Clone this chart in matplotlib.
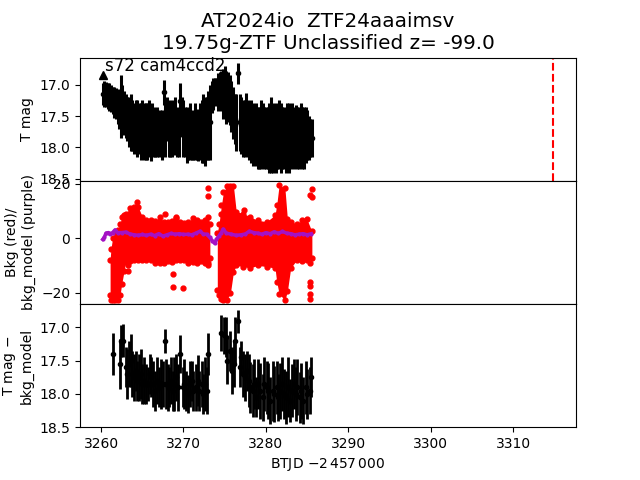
import matplotlib
matplotlib.use('Agg')
import matplotlib.pyplot as plt

# Top panel: T mag light curve
t_top = [3260.2, 3260.4, 3260.6, 3260.8, 3261.0, 3261.2, 3261.4, 3261.6, 3261.8, 3262.0,
         3262.2, 3262.4, 3262.6, 3262.8, 3263.0, 3263.2, 3263.4, 3263.6, 3263.8, 3264.0,
         3264.2, 3264.4, 3264.6, 3264.8, 3265.0, 3265.2, 3265.4, 3265.6, 3265.8, 3266.0,
         3266.2, 3266.4, 3266.6, 3266.8, 3267.0, 3267.2, 3267.4, 3267.6, 3267.8, 3268.0,
         3268.2, 3268.4, 3268.6, 3268.8, 3269.0, 3269.2, 3269.4, 3269.6, 3269.8, 3270.0,
         3270.2, 3270.4, 3270.6, 3270.8, 3271.0, 3271.2, 3271.4, 3271.6, 3271.8, 3272.0,
         3272.2, 3272.4, 3272.6, 3272.8, 3273.0, 3273.2, 3273.4, 3273.6, 3273.8, 3274.0,
         3274.2, 3274.4, 3274.6, 3274.8, 3275.0, 3275.2, 3275.4, 3275.6, 3275.8, 3276.0,
         3276.2, 3276.4, 3276.6, 3276.8, 3277.0, 3277.2, 3277.4, 3277.6, 3277.8, 3278.0,
         3278.2, 3278.4, 3278.6, 3278.8, 3279.0, 3279.2, 3279.4, 3279.6, 3279.8, 3280.0,
         3280.2, 3280.4, 3280.6, 3280.8, 3281.0, 3281.2, 3281.4, 3281.6, 3281.8, 3282.0,
         3282.2, 3282.4, 3282.6, 3282.8, 3283.0, 3283.2, 3283.4, 3283.6, 3283.8, 3284.0,
         3284.2, 3284.4, 3284.6, 3284.8, 3285.0, 3285.2, 3285.4, 3285.6]
mag_top = [17.15, 17.15, 17.16, 17.18, 17.20, 17.22, 17.25, 17.28, 17.30, 17.35,
           17.40, 17.35, 17.35, 17.45, 17.50, 17.55, 17.60, 17.60, 17.65, 17.70,
           17.65, 17.70, 17.70, 17.75, 17.70, 17.75, 17.75, 17.75, 17.70, 17.80,
           17.70, 17.75, 17.80, 17.75, 17.80, 17.75, 17.80, 17.12, 17.70, 17.55,
           17.70, 17.75, 17.70, 17.70, 17.65, 17.75, 17.80, 17.26, 17.50, 17.70,
           17.75, 17.80, 17.80, 17.75, 17.80, 17.85, 17.75, 17.80, 17.80, 17.75,
           17.75, 17.70, 17.75, 17.70, 17.65, 17.60, 17.20, 17.15, 17.12, 17.10,
           17.12, 17.10, 17.10, 17.15, 17.10, 17.20, 17.20, 17.25, 17.35, 17.45,
           17.55, 17.60, 16.82, 17.60, 17.65, 17.70, 17.70, 17.38, 17.70, 17.75,
           17.75, 17.80, 17.80, 17.80, 17.85, 17.85, 17.80, 17.80, 17.85, 17.85,
           17.85, 17.85, 17.80, 17.85, 17.85, 17.85, 17.85, 17.80, 17.85, 17.85,
           17.85, 17.90, 17.80, 17.85, 17.85, 17.80, 17.85, 17.62, 17.85, 17.85,
           17.80, 17.85, 17.85, 17.80, 17.80, 17.85, 17.85, 17.85]
err_top = [0.18, 0.20, 0.20, 0.20, 0.22, 0.22, 0.22, 0.25, 0.25, 0.28,
           0.30, 0.50, 0.35, 0.35, 0.35, 0.35, 0.40, 0.45, 0.40, 0.40,
           0.40, 0.45, 0.40, 0.45, 0.45, 0.45, 0.45, 0.45, 0.45, 0.42,
           0.40, 0.40, 0.35, 0.40, 0.35, 0.35, 0.40, 0.20, 0.45, 0.35,
           0.45, 0.40, 0.45, 0.42, 0.45, 0.40, 0.35, 0.28, 0.30, 0.45,
           0.40, 0.45, 0.40, 0.45, 0.40, 0.35, 0.45, 0.40, 0.42, 0.45,
           0.50, 0.55, 0.55, 0.50, 0.55, 0.60, 0.25, 0.25, 0.22, 0.20,
           0.30, 0.30, 0.32, 0.40, 0.40, 0.42, 0.40, 0.40, 0.40, 0.42,
           0.40, 0.45, 0.17, 0.45, 0.45, 0.45, 0.45, 0.25, 0.45, 0.45,
           0.50, 0.50, 0.45, 0.50, 0.50, 0.50, 0.55, 0.50, 0.50, 0.50,
           0.50, 0.55, 0.60, 0.55, 0.50, 0.55, 0.50, 0.55, 0.55, 0.50,
           0.50, 0.50, 0.50, 0.55, 0.50, 0.50, 0.50, 0.30, 0.50, 0.50,
           0.50, 0.50, 0.50, 0.45, 0.40, 0.35, 0.30, 0.30]

# Middle panel: background, dense cloud given by its edges, plus stray points
t_bkg_a = [3261.1, 3261.2, 3261.4, 3261.7, 3262.0, 3262.3, 3262.5, 3262.8, 3263.0, 3263.5, 3264.0, 3264.5, 3265.0,
           3265.5, 3266.0, 3266.6, 3267.1, 3267.6, 3268.1, 3268.6, 3269.1, 3269.6, 3270.1,
           3270.6, 3271.1, 3271.6, 3272.1, 3272.6, 3273.0, 3273.2]
hi_bkg_a = [-8.0, -4.0, 0.0, 2.3, 3.0, 5.0, 7.8, 8.5, 9.0, 11.0, 11.5, 11.5, 7.8,
            6.6, 6.5, 6.2, 7.8, 6.0, 6.0, 6.4, 7.2, 5.8, 5.5,
            6.0, 7.2, 6.5, 5.8, 6.5, 7.8, 5.0]
lo_bkg_a = [-21.0, -22.8, -22.8, -22.8, -22.8, -21.0, -17.0, -12.0, -8.7, -8.5, -8.0, -8.2, -8.0,
            -8.0, -8.2, -9.3, -9.0, -9.3, -8.5, -8.8, -8.0, -8.0, -8.2,
            -9.3, -8.8, -9.3, -8.5, -9.0, -9.0, -7.5]
t_bkg_b = [3274.1, 3274.3, 3274.6, 3274.85, 3275.25, 3275.7, 3276.06, 3276.4, 3277.27, 3278.08, 3279.0,
           3280.1, 3281.1, 3281.3, 3281.6, 3282.3, 3282.6, 3283.0, 3283.75, 3284.4, 3284.96, 3285.57]
hi_bkg_b = [2.0, 5.0, 12.0, 17.0, 19.0, 19.0, 19.0, 9.7, 9.0, 7.8, 6.5,
            6.0, 8.5, 12.0, 19.5, 18.3, 7.0, 6.0, 5.2, 6.5, 7.0, 2.4]
lo_bkg_b = [-19.0, -21.0, -22.5, -22.8, -22.8, -20.0, -12.4, -10.0, -10.5, -11.0, -10.0,
            -10.5, -11.0, -16.0, -20.5, -22.8, -19.5, -11.0, -8.0, -8.5, -8.0, -7.5]
t_bkg_odd = [3264.4, 3267.8, 3269.06, 3273.0, 3273.0, 3274.5, 3274.5, 3277.3, 3263.3, 3263.3,
             3268.7, 3268.7, 3270.0, 3273.0, 3285.55, 3285.35, 3285.6, 3285.35, 3285.35,
             3285.35, 3285.35, 3285.35]
bkg_odd = [13.4, 8.7, 7.6, 18.3, 15.4, 9.0, 5.0, 10.3, -10.0, -12.0,
           -13.2, -18.1, -18.5, -10.0, 18.0, 15.8, 15.0, -16.3, -17.5,
           -20.5, -22.2, -9.0]

# Background model
t_model = [3260.2, 3260.4, 3260.6, 3260.9, 3261.1, 3261.4, 3261.7, 3262.0, 3262.5, 3263.0, 3263.5,
           3264.0, 3264.5, 3265.0, 3265.5, 3266.0, 3266.5, 3267.0, 3267.5, 3268.0, 3268.5,
           3269.0, 3269.5, 3270.0, 3270.5, 3271.0, 3271.5, 3272.0, 3272.4, 3272.8, 3273.2,
           3273.5, 3273.8, 3274.0, 3274.3, 3274.6, 3274.8, 3275.2, 3275.8, 3276.4, 3277.0,
           3277.5, 3278.0, 3278.5, 3279.0, 3279.5, 3280.0, 3280.5, 3281.0, 3281.5, 3282.0,
           3282.5, 3283.0, 3283.5, 3284.0, 3284.5, 3285.0, 3285.5]
bkg_model = [-0.5, 0.3, 1.8, 2.0, 1.6, 2.0, 3.0, 2.0, 2.0, 2.2, 1.5,
             1.2, 1.0, 1.3, 1.0, 1.4, 0.9, 1.6, 0.7, 1.2, 1.7,
             1.4, 1.6, 1.3, 1.4, 1.2, 1.8, 2.5, 1.5, 1.4, 0.2,
             -1.0, -2.0, -0.5, 0.8, 2.0, 3.3, 1.8, 1.4, 1.0, 1.2,
             1.5, 2.5, 2.0, 1.8, 1.4, 2.0, 1.6, 2.3, 1.7, 2.4,
             1.8, 1.6, 1.2, 1.4, 1.6, 1.2, 1.6]

# Bottom panel: T mag minus background model
t_bot = [3261.4, 3262.3, 3262.4, 3262.7, 3263.0, 3263.2, 3263.4, 3263.6, 3263.8, 3264.0,
         3264.2, 3264.4, 3264.6, 3264.8, 3265.0, 3265.2, 3265.5, 3265.7, 3265.9, 3266.1,
         3266.3, 3266.6, 3266.8, 3267.0, 3267.3, 3267.5, 3267.7, 3267.9, 3268.1, 3268.3,
         3268.5, 3268.7, 3268.9, 3269.1, 3269.3, 3269.6, 3269.9, 3270.1, 3270.3, 3270.6,
         3270.8, 3271.0, 3271.2, 3271.5, 3271.7, 3271.9, 3272.2, 3272.4, 3272.6, 3272.9,
         3273.0, 3274.5, 3274.9, 3275.1, 3275.3, 3275.6, 3275.9, 3276.1, 3276.3, 3276.6,
         3276.8, 3277.0, 3277.2, 3277.4, 3277.7, 3277.9, 3278.1, 3278.4, 3278.6, 3278.8,
         3279.0, 3279.3, 3279.6, 3279.8, 3280.1, 3280.3, 3280.5, 3280.8, 3281.0, 3281.3,
         3281.5, 3281.7, 3282.0, 3282.2, 3282.4, 3282.7, 3282.9, 3283.1, 3283.4, 3283.6,
         3283.8, 3284.1, 3284.3, 3284.5, 3284.8, 3285.0, 3285.3, 3285.5]
mag_bot = [17.40, 17.55, 17.20, 17.20, 17.60, 17.70, 17.55, 17.50, 17.70, 17.75,
           17.65, 17.80, 17.75, 17.70, 17.85, 17.80, 17.85, 17.85, 17.70, 17.75,
           17.85, 17.95, 17.80, 17.90, 17.85, 17.85, 17.20, 17.85, 17.90, 17.90,
           17.80, 17.95, 17.85, 17.75, 17.90, 17.40, 17.90, 17.85, 17.95, 18.00,
           17.85, 17.80, 17.95, 17.90, 17.80, 17.95, 17.85, 18.00, 17.85, 17.95,
           17.40, 17.08, 17.12, 17.15, 17.50, 17.35, 17.65, 17.55, 17.20, 16.91,
           17.60, 17.45, 17.70, 17.75, 17.65, 17.80, 17.90, 17.95, 17.85, 18.05,
           17.85, 17.95, 18.05, 17.85, 17.90, 17.95, 18.10, 17.95, 18.00, 17.90,
           18.05, 17.95, 17.85, 18.00, 18.05, 17.90, 18.10, 17.95, 17.85, 18.00,
           17.90, 18.05, 17.95, 18.10, 17.90, 18.00, 17.95, 17.75]
err_bot = [0.32, 0.38, 0.24, 0.25, 0.30, 0.38, 0.35, 0.40, 0.35, 0.35,
           0.30, 0.30, 0.35, 0.38, 0.30, 0.35, 0.30, 0.25, 0.30, 0.30,
           0.35, 0.30, 0.35, 0.30, 0.38, 0.35, 0.18, 0.38, 0.35, 0.30,
           0.35, 0.30, 0.40, 0.35, 0.35, 0.28, 0.30, 0.38, 0.30, 0.28,
           0.35, 0.30, 0.30, 0.35, 0.38, 0.30, 0.35, 0.30, 0.40, 0.35,
           0.32, 0.27, 0.28, 0.30, 0.35, 0.30, 0.35, 0.35, 0.35, 0.17,
           0.30, 0.25, 0.35, 0.35, 0.30, 0.40, 0.38, 0.40, 0.38, 0.30,
           0.38, 0.42, 0.35, 0.40, 0.40, 0.42, 0.35, 0.45, 0.42, 0.40,
           0.35, 0.42, 0.40, 0.38, 0.40, 0.45, 0.32, 0.40, 0.38, 0.40,
           0.42, 0.38, 0.42, 0.35, 0.40, 0.38, 0.35, 0.30]

tick_x = [3260, 3270, 3280, 3290, 3300, 3310]
tick_mag = [17.0, 17.5, 18.0, 18.5]
tick_bkg = [-20, 0, 20]

fig, (ax1, ax2, ax3) = plt.subplots(3, 1, sharex=True, figsize=(6.4, 4.8))
fig.subplots_adjust(hspace=0)

# Top
ax1.errorbar(t_top, mag_top, yerr=err_top, fmt='k.', lw=2.2)
ax1.plot([3260.2], [16.85], 'k^', ms=6)
ax1.axvline(3314.8, color='red', ls='--', lw=1.5)
ax1.set_ylim(18.53, 16.57)
ax1.set_yticks(tick_mag)
ax1.set_ylabel('T mag', fontsize=10)
ax1.text(3260.5, 16.78, 's72 cam4ccd2', fontsize=12)
ax1.set_title('AT2024io  ZTF24aaaimsv\n19.75g-ZTF Unclassified z= -99.0', fontsize=14.4)

# Middle
for t, lo, hi in [(t_bkg_a, lo_bkg_a, hi_bkg_a), (t_bkg_b, lo_bkg_b, hi_bkg_b)]:
    ax2.fill_between(t, lo, hi, color='red', lw=0)
    ax2.plot(t, hi, 'r.', ms=7)
    ax2.plot(t, lo, 'r.', ms=7)
ax2.plot(t_bkg_odd, bkg_odd, 'r.', ms=7)
ax2.plot(t_model, bkg_model, color='#a412c4', marker='.', ms=4, lw=2.5)
ax2.set_ylim(-24.2, 21)
ax2.set_yticks(tick_bkg)
ax2.set_ylabel('Bkg (red)/\nbkg_model (purple)', fontsize=10)

# Bottom
ax3.errorbar(t_bot, mag_bot, yerr=err_bot, fmt='k.', lw=2)
ax3.set_ylim(18.5, 16.65)
ax3.set_yticks(tick_mag)
ax3.set_ylabel('T mag $-$\nbkg_model', fontsize=10)
ax3.set_xticks(tick_x)
ax3.set_xlim(3257.45, 3317.6)
ax3.set_xlabel(r'BTJD $-2\,457\,000$', fontsize=10)

ax1.tick_params(axis='x', length=0)
ax2.tick_params(axis='x', length=0)

plt.savefig('out.png', dpi=100)
